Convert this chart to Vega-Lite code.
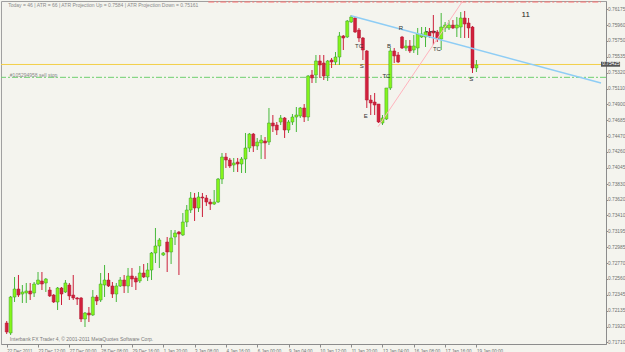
{
  "$schema": "https://vega.github.io/schema/vega-lite/v6.json",
  "width": 605,
  "height": 343,
  "autosize": "none",
  "padding": {"left": 1, "top": 1, "right": 19, "bottom": 8},
  "background": "#f4f4ee",
  "config": {
    "view": {"stroke": "#a0a0a0", "strokeWidth": 1},
    "axis": {"grid": false, "labelFont": "Liberation Sans", "labelFontSize": 5, "labelColor": "#707070", "tickColor": "#8c8c8c", "domainColor": "#8c8c8c", "tickSize": 2, "labelOverlap": false, "labelFlush": false}
  },
  "datasets": {
    "candles": [
      {"i":0,"o":0.71968,"h":0.71995,"l":0.7182,"c":0.71847},
      {"i":1,"o":0.71834,"h":0.7233,"l":0.71807,"c":0.72316},
      {"i":2,"o":0.72316,"h":0.72584,"l":0.72249,"c":0.72423},
      {"i":3,"o":0.72423,"h":0.72611,"l":0.72316,"c":0.72343},
      {"i":4,"o":0.72356,"h":0.72477,"l":0.72236,"c":0.72383},
      {"i":5,"o":0.7237,"h":0.72504,"l":0.72236,"c":0.72397},
      {"i":6,"o":0.72397,"h":0.72504,"l":0.72276,"c":0.72356},
      {"i":7,"o":0.7237,"h":0.72517,"l":0.72316,"c":0.7249},
      {"i":8,"o":0.7249,"h":0.72651,"l":0.72477,"c":0.72544},
      {"i":9,"o":0.72531,"h":0.72651,"l":0.7241,"c":0.7249},
      {"i":10,"o":0.72504,"h":0.72571,"l":0.72383,"c":0.72557},
      {"i":11,"o":0.7241,"h":0.7245,"l":0.72316,"c":0.7233},
      {"i":12,"o":0.72343,"h":0.72356,"l":0.72236,"c":0.72249},
      {"i":13,"o":0.72249,"h":0.7245,"l":0.72142,"c":0.72437},
      {"i":14,"o":0.72437,"h":0.7245,"l":0.72209,"c":0.72356},
      {"i":15,"o":0.72383,"h":0.72544,"l":0.7237,"c":0.72504},
      {"i":16,"o":0.72477,"h":0.72504,"l":0.72276,"c":0.7233},
      {"i":17,"o":0.72343,"h":0.72611,"l":0.72276,"c":0.72303},
      {"i":18,"o":0.72303,"h":0.72316,"l":0.72209,"c":0.72289},
      {"i":19,"o":0.72303,"h":0.72316,"l":0.71981,"c":0.72021},
      {"i":20,"o":0.72021,"h":0.72115,"l":0.71914,"c":0.72102},
      {"i":21,"o":0.72102,"h":0.72182,"l":0.71981,"c":0.72075},
      {"i":22,"o":0.72075,"h":0.7241,"l":0.72062,"c":0.72316},
      {"i":23,"o":0.72316,"h":0.72343,"l":0.72209,"c":0.72263},
      {"i":24,"o":0.72276,"h":0.72638,"l":0.72249,"c":0.7249},
      {"i":25,"o":0.72477,"h":0.72745,"l":0.72316,"c":0.72544},
      {"i":26,"o":0.72544,"h":0.72638,"l":0.7245,"c":0.72464},
      {"i":27,"o":0.72464,"h":0.72517,"l":0.72303,"c":0.72356},
      {"i":28,"o":0.72356,"h":0.72504,"l":0.72249,"c":0.72464},
      {"i":29,"o":0.72464,"h":0.72584,"l":0.7245,"c":0.72544},
      {"i":30,"o":0.72544,"h":0.72611,"l":0.7237,"c":0.72464},
      {"i":31,"o":0.72464,"h":0.72705,"l":0.7237,"c":0.72598},
      {"i":32,"o":0.72598,"h":0.72705,"l":0.7245,"c":0.72557},
      {"i":33,"o":0.72571,"h":0.72598,"l":0.7241,"c":0.72517},
      {"i":34,"o":0.72531,"h":0.72732,"l":0.72504,"c":0.72638},
      {"i":35,"o":0.72638,"h":0.72758,"l":0.72571,"c":0.72584},
      {"i":36,"o":0.72584,"h":0.72772,"l":0.72531,"c":0.72678},
      {"i":37,"o":0.72678,"h":0.72919,"l":0.72544,"c":0.72906},
      {"i":38,"o":0.72906,"h":0.73241,"l":0.72772,"c":0.73},
      {"i":39,"o":0.73,"h":0.73107,"l":0.72705,"c":0.7308},
      {"i":40,"o":0.72879,"h":0.72919,"l":0.72866,"c":0.72906},
      {"i":41,"o":0.73053,"h":0.7312,"l":0.72651,"c":0.72919},
      {"i":42,"o":0.72919,"h":0.73214,"l":0.72758,"c":0.73107},
      {"i":43,"o":0.7312,"h":0.73214,"l":0.73013,"c":0.73174},
      {"i":44,"o":0.73187,"h":0.73201,"l":0.72611,"c":0.7316},
      {"i":45,"o":0.73147,"h":0.73442,"l":0.73134,"c":0.73321},
      {"i":46,"o":0.73321,"h":0.73549,"l":0.73254,"c":0.73482},
      {"i":47,"o":0.73482,"h":0.73723,"l":0.73442,"c":0.73643},
      {"i":48,"o":0.73643,"h":0.7371,"l":0.73335,"c":0.73509},
      {"i":49,"o":0.73509,"h":0.73723,"l":0.73455,"c":0.73656},
      {"i":50,"o":0.73656,"h":0.7371,"l":0.73388,"c":0.73643},
      {"i":51,"o":0.73643,"h":0.73683,"l":0.73536,"c":0.73589},
      {"i":52,"o":0.73589,"h":0.73629,"l":0.73482,"c":0.73562},
      {"i":53,"o":0.73562,"h":0.7375,"l":0.73549,"c":0.73589},
      {"i":54,"o":0.73589,"h":0.73911,"l":0.73576,"c":0.73897},
      {"i":55,"o":0.73897,"h":0.74246,"l":0.7383,"c":0.74192},
      {"i":56,"o":0.74192,"h":0.74246,"l":0.74045,"c":0.74152},
      {"i":57,"o":0.74152,"h":0.74179,"l":0.74045,"c":0.74072},
      {"i":58,"o":0.74085,"h":0.74179,"l":0.73991,"c":0.74112},
      {"i":59,"o":0.74125,"h":0.74179,"l":0.73991,"c":0.74098},
      {"i":60,"o":0.74098,"h":0.74192,"l":0.73978,"c":0.74165},
      {"i":61,"o":0.74165,"h":0.74514,"l":0.73978,"c":0.74313},
      {"i":62,"o":0.74313,"h":0.74514,"l":0.74259,"c":0.745},
      {"i":63,"o":0.745,"h":0.74514,"l":0.74259,"c":0.7434},
      {"i":64,"o":0.7434,"h":0.74447,"l":0.74286,"c":0.74393},
      {"i":65,"o":0.7438,"h":0.74487,"l":0.74165,"c":0.7442},
      {"i":66,"o":0.74407,"h":0.7446,"l":0.74165,"c":0.7438},
      {"i":67,"o":0.74393,"h":0.74849,"l":0.74353,"c":0.74648},
      {"i":68,"o":0.74648,"h":0.74755,"l":0.74527,"c":0.74608},
      {"i":69,"o":0.74621,"h":0.74661,"l":0.74487,"c":0.74554},
      {"i":70,"o":0.74661,"h":0.74755,"l":0.74621,"c":0.74715},
      {"i":71,"o":0.74715,"h":0.74728,"l":0.74447,"c":0.74554},
      {"i":72,"o":0.74554,"h":0.74688,"l":0.74514,"c":0.74661},
      {"i":73,"o":0.74661,"h":0.74768,"l":0.74621,"c":0.74728},
      {"i":74,"o":0.74728,"h":0.74862,"l":0.74527,"c":0.74755},
      {"i":75,"o":0.74742,"h":0.74862,"l":0.74715,"c":0.74849},
      {"i":76,"o":0.74849,"h":0.74902,"l":0.74661,"c":0.74728},
      {"i":77,"o":0.74728,"h":0.75291,"l":0.74675,"c":0.75278},
      {"i":78,"o":0.75291,"h":0.75358,"l":0.75184,"c":0.75251},
      {"i":79,"o":0.75291,"h":0.75559,"l":0.75184,"c":0.75479},
      {"i":80,"o":0.75479,"h":0.75559,"l":0.75251,"c":0.75425},
      {"i":81,"o":0.75452,"h":0.75559,"l":0.75224,"c":0.75278},
      {"i":82,"o":0.75278,"h":0.75492,"l":0.75211,"c":0.75479},
      {"i":83,"o":0.75492,"h":0.75519,"l":0.75385,"c":0.75465},
      {"i":84,"o":0.75465,"h":0.75599,"l":0.75425,"c":0.75532},
      {"i":85,"o":0.75532,"h":0.75867,"l":0.75425,"c":0.75814},
      {"i":86,"o":0.75814,"h":0.75827,"l":0.75626,"c":0.75787},
      {"i":87,"o":0.758,"h":0.76028,"l":0.75787,"c":0.76015},
      {"i":88,"o":0.76001,"h":0.76095,"l":0.75988,"c":0.76068},
      {"i":89,"o":0.76055,"h":0.76068,"l":0.75854,"c":0.75867},
      {"i":90,"o":0.75894,"h":0.75921,"l":0.75733,"c":0.75787},
      {"i":91,"o":0.75787,"h":0.758,"l":0.75492,"c":0.75626},
      {"i":92,"o":0.75613,"h":0.75626,"l":0.74849,"c":0.74956},
      {"i":93,"o":0.74956,"h":0.75023,"l":0.74755,"c":0.74916},
      {"i":94,"o":0.74929,"h":0.7505,"l":0.74755,"c":0.74889},
      {"i":95,"o":0.74902,"h":0.74902,"l":0.74648,"c":0.74661},
      {"i":96,"o":0.74648,"h":0.74755,"l":0.74621,"c":0.74715},
      {"i":97,"o":0.74701,"h":0.75117,"l":0.74688,"c":0.75117},
      {"i":98,"o":0.75117,"h":0.75653,"l":0.7509,"c":0.75613},
      {"i":99,"o":0.75613,"h":0.75653,"l":0.75452,"c":0.75546},
      {"i":100,"o":0.75559,"h":0.75599,"l":0.75452,"c":0.75465},
      {"i":101,"o":0.758,"h":0.75814,"l":0.75639,"c":0.75653},
      {"i":102,"o":0.75653,"h":0.7576,"l":0.75613,"c":0.7568},
      {"i":103,"o":0.7568,"h":0.7576,"l":0.75586,"c":0.75613},
      {"i":104,"o":0.75626,"h":0.75827,"l":0.75586,"c":0.7568},
      {"i":105,"o":0.75653,"h":0.75921,"l":0.75559,"c":0.7584},
      {"i":106,"o":0.758,"h":0.75934,"l":0.75787,"c":0.7584},
      {"i":107,"o":0.758,"h":0.75934,"l":0.75666,"c":0.75867},
      {"i":108,"o":0.75867,"h":0.75921,"l":0.75787,"c":0.75814},
      {"i":109,"o":0.75881,"h":0.76095,"l":0.75693,"c":0.75854},
      {"i":110,"o":0.75867,"h":0.75894,"l":0.75733,"c":0.75773},
      {"i":111,"o":0.75773,"h":0.76122,"l":0.75626,"c":0.75934},
      {"i":112,"o":0.75921,"h":0.76001,"l":0.75867,"c":0.75961},
      {"i":113,"o":0.75921,"h":0.76028,"l":0.75894,"c":0.75961},
      {"i":114,"o":0.75961,"h":0.76028,"l":0.75907,"c":0.75921},
      {"i":115,"o":0.75921,"h":0.76068,"l":0.758,"c":0.75961},
      {"i":116,"o":0.75934,"h":0.76135,"l":0.75787,"c":0.76055},
      {"i":117,"o":0.76055,"h":0.76149,"l":0.75787,"c":0.75974},
      {"i":118,"o":0.75988,"h":0.76055,"l":0.75787,"c":0.75921},
      {"i":119,"o":0.75934,"h":0.75948,"l":0.75318,"c":0.75385},
      {"i":120,"o":0.75385,"h":0.75492,"l":0.75331,"c":0.75425}
    ],
    "ann": [
      {"t":"TC","i":90.0,"p":0.7568},
      {"t":"S","i":90.7,"p":0.75412},
      {"t":"E","i":91.7,"p":0.74742},
      {"t":"B","i":97.7,"p":0.7568},
      {"t":"TC","i":97.0,"p":0.75278},
      {"t":"R","i":100.7,"p":0.75925},
      {"t":"TC","i":109.9,"p":0.75639},
      {"t":"S","i":118.7,"p":0.75237},
      {"t":"11","i":132.6,"p":0.76095}
    ]
  },
  "layer": [
    {
      "data": {"values": [{}]},
      "mark": {"type": "rule", "color": "#ff6f6f", "strokeWidth": 1, "strokeDash": [6, 2, 2, 2]},
      "encoding": {
        "x": {"datum": 51.5, "type": "quantitative", "scale": {"domain": [-0.18, 151.83], "nice": false, "zero": false}},
        "x2": {"datum": 151.83},
        "y": {"datum": 0.76269, "type": "quantitative", "scale": {"domain": [0.716864, 0.762826], "nice": false, "zero": false}}
      }
    },
    {
      "data": {"values": [{}]},
      "mark": {"type": "rule", "color": "#f2cf48", "strokeWidth": 1},
      "encoding": {"y": {"datum": 0.75432, "type": "quantitative"}}
    },
    {
      "data": {"values": [{}]},
      "mark": {"type": "rule", "color": "#6fd06f", "strokeWidth": 1, "strokeDash": [6, 2, 2, 2]},
      "encoding": {"y": {"datum": 0.7526, "type": "quantitative"}}
    },
    {
      "data": {"name": "candles"},
      "mark": {"type": "rule", "strokeWidth": 1},
      "encoding": {
        "x": {"field": "i", "type": "quantitative", "title": null,
          "axis": {"values": [0, 8, 16, 24, 32, 40, 48, 56, 64, 72, 80, 88, 96, 104, 112, 120], "tickCount": 40,
            "labelExpr": "['22 Dec 2011','23 Dec 12:00','27 Dec 00:00','28 Dec 08:00','29 Dec 16:00','1 Jan 20:00','3 Jan 08:00','4 Jan 16:00','6 Jan 00:00','9 Jan 04:00','10 Jan 12:00','11 Jan 20:00','13 Jan 04:00','16 Jan 08:00','17 Jan 16:00','19 Jan 00:00'][round(datum.value/8)]",
            "labelAlign": "left", "labelBaseline": "top", "labelPadding": 1, "labelFontSize": 4.5, "labelFlush": false, "labelOverlap": false, "tickSize": 3}},
        "y": {"field": "l", "type": "quantitative", "title": null,
          "axis": {"orient": "right", "tickCount": 40, "values": [0.7171, 0.7192, 0.72135, 0.72345, 0.7256, 0.7277, 0.72985, 0.73195, 0.7341, 0.7362, 0.7383, 0.74045, 0.7426, 0.7447, 0.74685, 0.749, 0.7511, 0.7532, 0.75535, 0.7575, 0.7596, 0.76175],
            "format": ".5f", "labelAlign": "left", "labelBaseline": "middle", "labelPadding": 0, "tickSize": 1.5, "labelFontSize": 4.8, "labelFlush": false, "labelOverlap": false}},
        "y2": {"field": "h"},
        "color": {"condition": {"test": "datum.c >= datum.o", "value": "#46b83a"}, "value": "#cc1f3a"}
      }
    },
    {
      "data": {"name": "candles"},
      "mark": {"type": "bar", "size": 3, "strokeWidth": 0.5},
      "encoding": {
        "x": {"field": "i", "type": "quantitative", "title": null},
        "y": {"field": "o", "type": "quantitative", "title": null},
        "y2": {"field": "c"},
        "fill": {"condition": {"test": "datum.c >= datum.o", "value": "#84f51a"}, "value": "#d2203c"},
        "stroke": {"condition": {"test": "datum.c >= datum.o", "value": "#3d9a2c"}, "value": "#b01a32"}
      }
    },
    {
      "data": {"values": [{}]},
      "mark": {"type": "rule", "color": "#8ecdf5", "strokeWidth": 1.5, "clip": true},
      "encoding": {
        "x": {"datum": 87.94, "type": "quantitative"},
        "x2": {"datum": 151.83},
        "y": {"datum": 0.76086, "type": "quantitative"},
        "y2": {"datum": 0.75183}
      }
    },
    {
      "data": {"values": [{}]},
      "mark": {"type": "rule", "color": "#ffb3bd", "strokeWidth": 1, "clip": true},
      "encoding": {
        "x": {"datum": 94.88, "type": "quantitative"},
        "x2": {"datum": 116.5},
        "y": {"datum": 0.74598, "type": "quantitative"},
        "y2": {"datum": 0.76283}
      }
    },
    {
      "data": {"values": [{}]},
      "mark": {"type": "rule", "color": "#333333", "strokeWidth": 1, "strokeDash": [2, 2]},
      "encoding": {
        "x": {"datum": 107.1, "type": "quantitative"},
        "x2": {"datum": 110.1},
        "y": {"datum": 0.75871, "type": "quantitative"}
      }
    },
    {
      "data": {"name": "ann"},
      "mark": {"type": "text", "font": "Liberation Sans", "align": "center", "baseline": "middle"},
      "encoding": {
        "x": {"field": "i", "type": "quantitative", "title": null},
        "y": {"field": "p", "type": "quantitative", "title": null},
        "text": {"field": "t"},
        "size": {"condition": {"test": "datum.t == '11'", "value": 8}, "value": 6},
        "color": {"condition": {"test": "datum.t == '11'", "value": "#222222"}, "value": "#333333"}
      }
    },
    {
      "data": {"values": [{}]},
      "mark": {"type": "text", "font": "Liberation Sans", "fontSize": 5, "align": "left", "baseline": "middle", "color": "#8a8a8a"},
      "encoding": {
        "x": {"datum": 0.4, "type": "quantitative"},
        "y": {"datum": 0.76229, "type": "quantitative"},
        "text": {"value": "Today = 46   |   ATR = 66   |   ATR Projection Up = 0.7584   |   ATR Projection Down = 0.75161"}
      }
    },
    {
      "data": {"values": [{}]},
      "mark": {"type": "text", "font": "Liberation Sans", "fontSize": 5, "align": "left", "baseline": "middle", "color": "#8a8a8a"},
      "encoding": {
        "x": {"datum": 0.8, "type": "quantitative"},
        "y": {"datum": 0.75295, "type": "quantitative"},
        "text": {"value": "#105294958 sell stop"}
      }
    },
    {
      "data": {"values": [{}]},
      "mark": {"type": "text", "font": "Liberation Sans", "fontSize": 5, "align": "left", "baseline": "middle", "color": "#7a7a7a"},
      "encoding": {
        "x": {"datum": 0.8, "type": "quantitative"},
        "y": {"datum": 0.71753, "type": "quantitative"},
        "text": {"value": "Interbank FX Trader 4, © 2001-2011 MetaQuotes Software Corp."}
      }
    },
    {
      "data": {"values": [{}]},
      "mark": {"type": "rect", "color": "#555555", "clip": false},
      "encoding": {
        "x": {"datum": 151.83, "type": "quantitative"},
        "x2": {"datum": 156.7},
        "y": {"datum": 0.75469, "type": "quantitative"},
        "y2": {"datum": 0.75402}
      }
    },
    {
      "data": {"values": [{}]},
      "mark": {"type": "text", "font": "Liberation Sans", "fontSize": 4.8, "align": "left", "baseline": "middle", "color": "#ffffff", "clip": false},
      "encoding": {
        "x": {"datum": 152.15, "type": "quantitative"},
        "y": {"datum": 0.75435, "type": "quantitative"},
        "text": {"value": "0.75425"}
      }
    }
  ]
}
